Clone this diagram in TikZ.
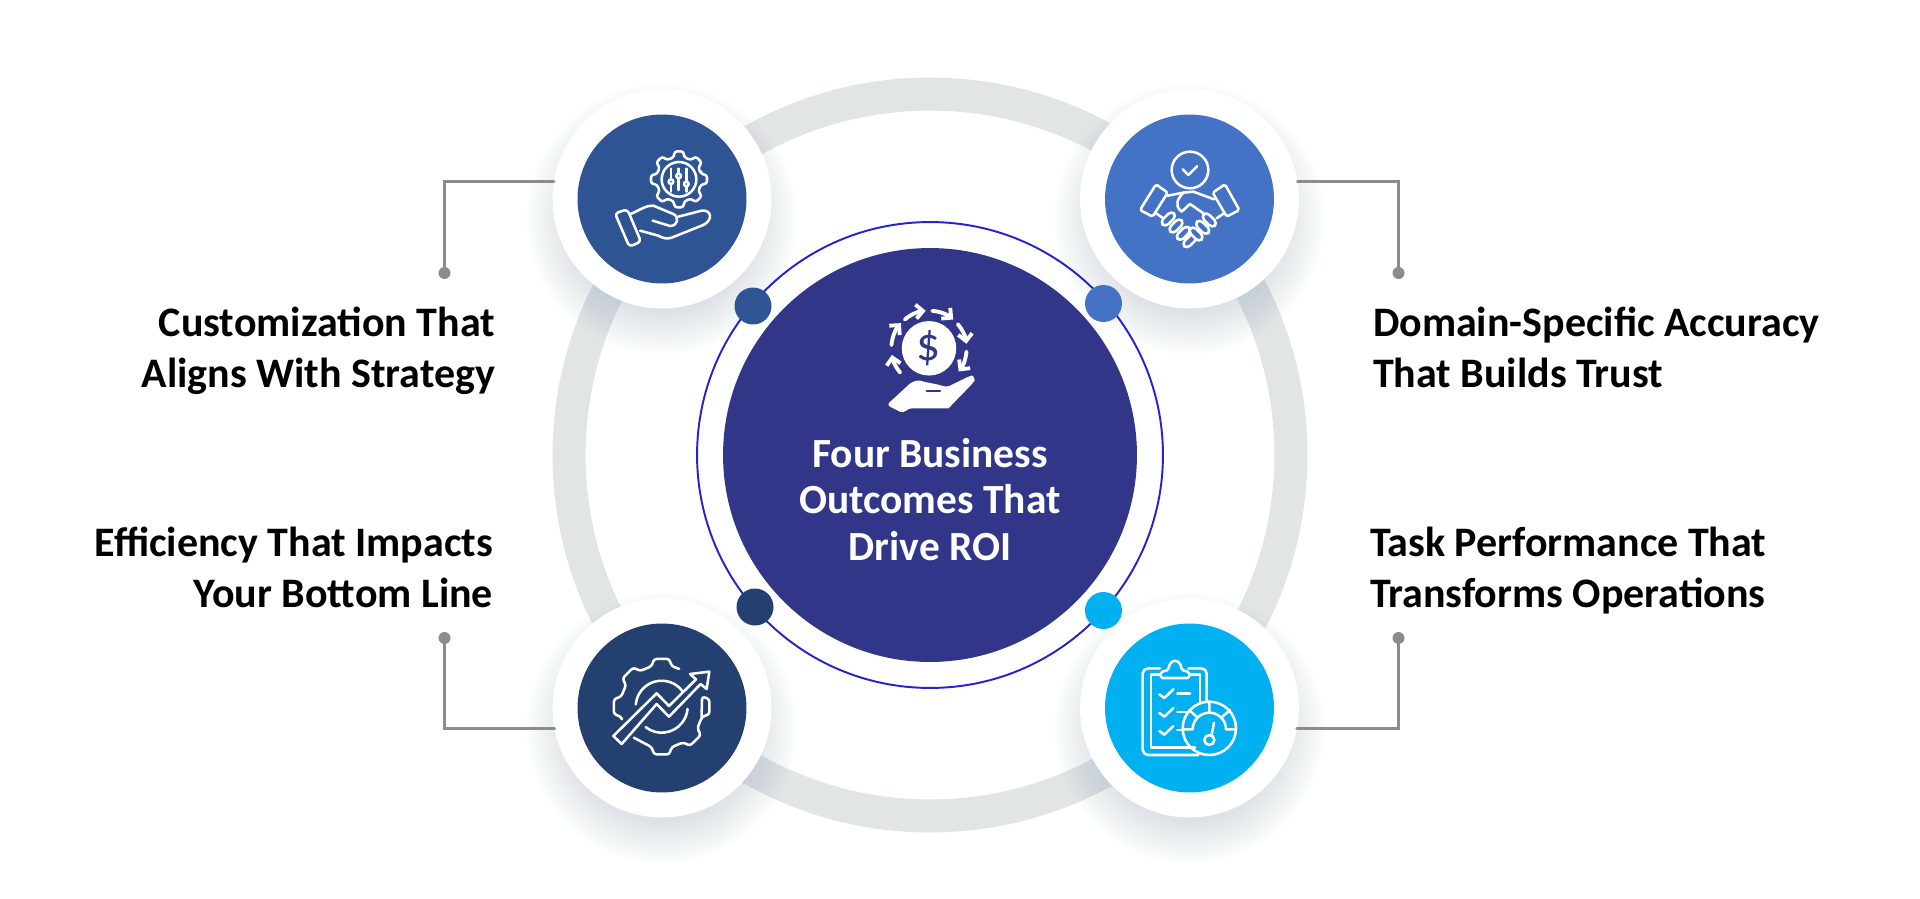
\documentclass[tikz,border=0pt]{standalone}
\usepackage{fontspec}
\setmainfont{Carlito}
\usetikzlibrary{arrows.meta,positioning}
\definecolor{inkring}{HTML}{E1E5E4}
\definecolor{inkhalo}{HTML}{8FA3BC}
\definecolor{inkleader}{HTML}{8C8C8C}
\definecolor{inknavy}{HTML}{313689}
\definecolor{inkthin}{HTML}{2323CF}
\definecolor{inkA}{HTML}{2E5493}
\definecolor{inkB}{HTML}{4472C4}
\definecolor{inkC}{HTML}{234071}
\definecolor{inkD}{HTML}{00B0F0}
\tikzset{hub/.style={circle,fill=white,minimum size=4.38cm,inner sep=0pt,outer sep=0pt},disc/.style={circle,minimum size=3.38cm,inner sep=0pt,outer sep=0pt},pin/.style={circle,minimum size=.74cm,inner sep=0pt,outer sep=0pt},tip/.style={circle,fill=inkleader,minimum size=.24cm,inner sep=0pt,outer sep=0pt},leader/.style={draw=inkleader,line width=1.7pt},halo/.style={fill=inkhalo,fill opacity=.02,draw=none},outcome/.style={font=\fontsize{23.9}{28.7}\selectfont\bfseries,inner sep=0pt,outer sep=0pt,text=black},icon/.style={draw=white,line width=1.45pt,line join=round,line cap=round},zoomed/.style={x=.0066667cm,y=-.0066667cm},every picture/.style={line cap=round}}

\begin{document}
\begin{tikzpicture}[x=.02cm,y=-.02cm]
\useasboundingbox (0,0) rectangle (1920,899);
\fill[white] (0,0) rectangle (1920,899);
\node[circle,draw=inkring,line width=18.8pt,minimum size=14.44cm,inner sep=0pt] (track) at (930,455) {};
\foreach \x/\y in {662/199,1189.5/199,662/708,1189.5/708}{\foreach \r in {90,93,...,135}{\fill[halo] (\x,\y+20) circle (\r);}}
\node[circle,draw=inkthin,line width=1.1pt,minimum size=9.32cm,inner sep=0pt] (orbit) at (930,455) {};
\node[circle,fill=inknavy,minimum size=8.28cm,inner sep=0pt] (core) at (930,455) {};
\node[hub] (hubA) at (662,199) {};
\node[hub] (hubB) at (1189.5,199) {};
\node[hub] (hubC) at (662,708) {};
\node[hub] (hubD) at (1189.5,708) {};
\node[disc,fill=inkA] (discA) at (hubA) {};
\node[disc,fill=inkB] (discB) at (hubB) {};
\node[disc,fill=inkC] (discC) at (hubC) {};
\node[disc,fill=inkD] (discD) at (hubD) {};
\node[pin,fill=inkA] (pinA) at (753,306) {};
\node[pin,fill=inkB] (pinB) at (1103.5,303.5) {};
\node[pin,fill=inkC] (pinC) at (755,607) {};
\node[pin,fill=inkD] (pinD) at (1103.5,610.5) {};
\node[tip] (tipA) at (444.5,273) {};
\node[tip] (tipB) at (1398.5,273) {};
\node[tip] (tipC) at (444.5,638) {};
\node[tip] (tipD) at (1398.5,638) {};
\draw[leader] (tipA) |- (hubA.171);
\draw[leader] (tipB) |- (hubB.9);
\draw[leader] (tipC) |- (hubC.191.6);
\draw[leader] (tipD) |- (hubD.-11.6);
\node[outcome,align=right,anchor=base east] (textA) at (495,387) {Customization That\\Aligns With Strategy};
\node[outcome,align=left,anchor=base west] (textB) at (1373,387) {Domain-Specific Accuracy\\That Builds Trust};
\node[outcome,align=right,anchor=base east] (textC) at (493,607) {Efficiency That Impacts\\Your Bottom Line};
\node[outcome,align=left,anchor=base west] (textD) at (1370,607) {Task Performance That\\Transforms Operations};
\node[outcome,align=center,anchor=base,text=white,font=\fontsize{23.6}{26.2}\selectfont\bfseries] (title) at (930,560) {Four Business\\Outcomes That\\Drive ROI};
\begin{scope}[shift={(540,70)},zoomed]
\begin{scope}[shift={(417,328)}]
\draw[icon,rounded corners=1.5pt] (-13:68) foreach \a in {0,45,...,315}{-- ({\a-9}:85) -- ({\a+9}:85) -- ({\a+13}:68) -- ({\a+32}:68)} -- cycle;
\draw[icon] (0,0) circle (52);
\end{scope}
\draw[icon] (393,296) -- (393,365) (416,296) -- (416,360) (439,296) -- (439,365);
\foreach \x/\y in {393/335,416/318,439/342}{\filldraw[icon,fill=inkA] (\x,\y) circle (7);}
\draw[icon,rounded corners=2pt] (225,430) -- (262,418) -- (303,515) -- (268,530) -- cycle;
\draw[icon] (272,432) .. controls (300,420) and (320,405) .. (340,407) -- (400,432) .. controls (418,440) and (415,468) .. (390,468) -- (338,452);
\draw[icon] (415,440) -- (485,422) .. controls (515,418) and (520,450) .. (490,465) -- (395,503) .. controls (380,508) and (370,505) .. (355,497) -- (300,482);
\end{scope}
\begin{scope}[shift={(1070,70)},zoomed]
\draw[icon] (360,300) circle (55);
\draw[icon] (338,298) -- (355,315) -- (382,288);
\draw[icon,rounded corners=1pt] (210,420) -- (258,343) -- (293,368) -- (248,440) -- cycle;
\draw[icon,rounded corners=1pt] (428,368) -- (465,343) -- (508,420) -- (470,440) -- cycle;
\draw[icon] (288,378) -- (340,368) .. controls (325,385) and (310,405) .. (335,425) -- (360,402) -- (432,452);
\draw[icon] (340,368) -- (370,365) -- (432,388);
\draw[icon] (465,428) -- (440,445) (255,428) -- (280,445);
\foreach \x/\y in {295/447,318/468,340/490,360/512}{\draw[icon,fill=inkB,shift={(\x,\y)},rotate=45,rounded corners=2.5pt] (-24,-11) rectangle (24,11);}
\foreach \x/\y in {418/450,398/472,378/492}{\draw[icon,fill=inkB,shift={(\x,\y)},rotate=-45,rounded corners=2.5pt] (-24,-11) rectangle (24,11);}
\end{scope}
\begin{scope}[shift={(540,590)},zoomed]
\begin{scope}[shift={(365,350)}]
\draw[icon,rounded corners=1.5pt] (-65:125) foreach \a in {90,135,180}{-- ({-\a+14}:125) -- ({-\a+9}:145) -- ({-\a-9}:145) -- ({-\a-14}:125)} -- (-196:125);
\draw[icon,rounded corners=1.5pt] (-228:125) foreach \a in {270,315,360}{-- ({-\a+14}:125) -- ({-\a+9}:145) -- ({-\a-9}:145) -- ({-\a-14}:125)} -- (17:125);
\draw[icon] (-175:78) arc[start angle=-175,end angle=-35,radius=78];
\draw[icon] (128:78) arc[start angle=128,end angle=5,radius=78];
\end{scope}
\filldraw[icon,fill=inkC] (220,438) -- (350,310) -- (387,348) -- (468,268) -- (450,252) -- (508,245) -- (500,297) -- (482,282) -- (387,380) -- (350,342) -- (245,462) -- cycle;
\end{scope}
\begin{scope}[shift={(1070,590)},zoomed]
\draw[icon,rounded corners=3pt] (385,495) -- (218,495) -- (218,235) -- (270,235);
\draw[icon,rounded corners=3pt] (355,235) -- (410,235) -- (410,335);
\draw[icon] (270,253) -- (243,253) -- (243,473) -- (375,473);
\draw[icon] (358,253) -- (390,253) -- (390,335);
\draw[icon,rounded corners=1pt] (272,264) -- (272,246) -- (295,240) .. controls (300,205) and (330,205) .. (335,240) -- (358,246) -- (358,264) -- cycle;
\foreach \y in {310,366,420}{\draw[icon] (268,\y+3) -- (283,\y+14) -- (310,\y-12);}
\draw[icon] (322,310) -- (360,310) (322,366) -- (350,366) (322,420) -- (340,420);
\draw[icon] (418,415) circle (80);
\draw[icon] (340,418) -- (368,418) arc[start angle=180,end angle=360,radius=50] -- (497,418);
\draw[icon] (418,335) -- (418,365) (357,360) -- (380,380) (480,360) -- (457,380);
\draw[icon] (418,450) circle (15);
\draw[icon] (425,435) -- (432,398);
\end{scope}
\node[circle,fill=white,minimum size=1.09cm,inner sep=0pt] (coin) at (929,348.3) {};
\node[inner sep=0pt,text=inknavy,font=\fontsize{27}{27}\selectfont] (dollar) at (coin) {\$};
\begin{scope}[shift={(840,280)},zoomed]
\foreach \s/\e in {175/138,130/95,85/50,40/7,-5/-38,-140/-170}{\draw[icon,line width=2.2pt,-{Straight Barb[length=1.4mm,width=2.8mm]}] (267,205) ++({-\s}:113) arc[start angle=-\s,end angle=-\e,radius=113];}
\fill[white,rounded corners=2pt] (140,375) -- (200,320) .. controls (215,305) and (235,300) .. (250,305) -- (300,315) -- (320,322) -- (385,290) .. controls (400,285) and (405,300) .. (398,310) -- (335,375) .. controls (328,383) and (322,385) .. (315,385) -- (205,385) -- (190,400) -- cycle;
\draw[inknavy,line width=1.2pt] (260,333) -- (300,333);
\end{scope}
\end{tikzpicture}
\end{document}
